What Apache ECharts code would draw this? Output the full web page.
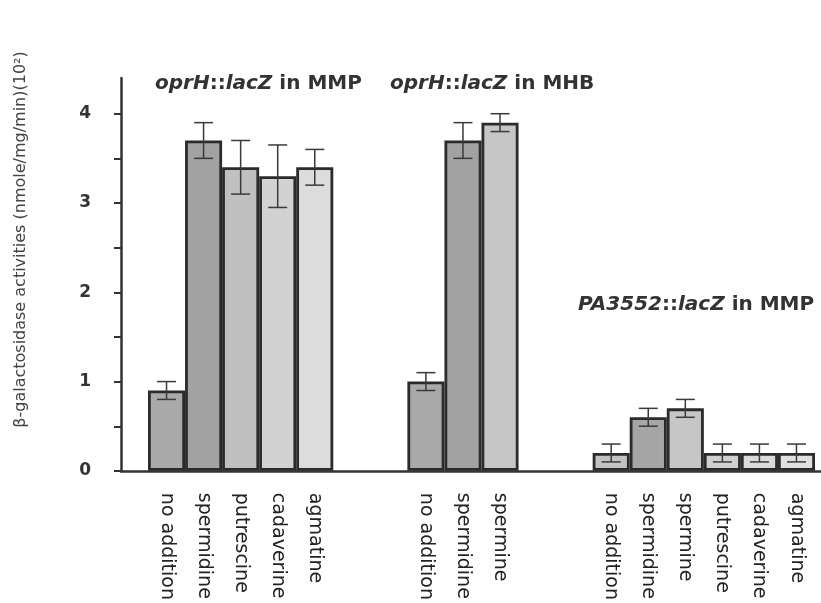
<!DOCTYPE html>
<html>
<head>
<meta charset="utf-8">
<script src="https://cdn.jsdelivr.net/npm/echarts@6/dist/echarts.min.js"></script>
<style>
html, body { margin: 0; padding: 0; background: #fff; }
#chart { width: 821px; height: 603px; }
</style>
</head>
<body>
<div id="chart"></div>
<script>
// oprH::lacZ in MMP
const mmpLabels = ['no addition', 'spermidine', 'putrescine', 'cadaverine', 'agmatine'];
const mmpValues = [0.9, 3.7, 3.4, 3.3, 3.4];
const mmpErrors = [0.1, 0.2, 0.3, 0.35, 0.2];
// oprH::lacZ in MHB
const mhbLabels = ['no addition', 'spermidine', 'spermine'];
const mhbValues = [1.0, 3.7, 3.9];
const mhbErrors = [0.1, 0.2, 0.1];
// PA3552::lacZ in MMP
const paLabels = ['no addition', 'spermidine', 'spermine', 'putrescine', 'cadaverine', 'agmatine'];
const paValues = [0.2, 0.6, 0.7, 0.2, 0.2, 0.2];
const paErrors = [0.1, 0.1, 0.1, 0.1, 0.1, 0.1];

const yTicks = [0, 0.5, 1, 1.5, 2, 2.5, 3, 3.5, 4];
const yLabels = [0, 1, 2, 3, 4];

// grey fills per group
const mmpShades = ['#a9a9a9', '#a2a2a2', '#c0c0c0', '#d2d2d2', '#dcdcdc'];
const mhbShades = ['#a9a9a9', '#a2a2a2', '#c6c6c6'];
const paShades = ['#c2c2c2', '#a6a6a6', '#c6c6c6', '#d0d0d0', '#dadada', '#e0e0e0'];

// lay the groups out on one category axis with two empty slots between them
const categories = [], values = [], shades = [], errData = [];
function addGroup(labels, vals, errs, cols, gapAfter) {
    labels.forEach(function (l, i) {
        const idx = categories.length;
        categories.push(l);
        values.push(vals[i]);
        shades.push(cols[i]);
        errData.push([idx, vals[i], errs[i]]);
    });
    for (let k = 0; k < gapAfter; k++) {
        categories.push('');
        values.push('-');
        shades.push('#fff');
    }
}
addGroup(mmpLabels, mmpValues, mmpErrors, mmpShades, 2);
addGroup(mhbLabels, mhbValues, mhbErrors, mhbShades, 2);
addGroup(paLabels, paValues, paErrors, paShades, 0);

const chart = echarts.init(document.getElementById('chart'));

const titleStyle = {
    fontFamily: 'DejaVu Sans',
    fontWeight: 'bold',
    fontSize: 20,
    color: '#333',
    rich: {
        i: { fontFamily: 'DejaVu Sans', fontWeight: 'bold', fontStyle: 'italic', fontSize: 20, color: '#333' },
        n: { fontFamily: 'DejaVu Sans', fontWeight: 'bold', fontSize: 20, color: '#333' }
    }
};

const option = {
    animation: false,
    backgroundColor: '#fff',
    title: [
        { text: '{i|oprH}{n|::}{i|lacZ}{n| in MMP}', left: 150, top: 69, textStyle: titleStyle },
        { text: '{i|oprH}{n|::}{i|lacZ}{n| in MHB}', left: 385, top: 69, textStyle: titleStyle },
        { text: '{i|PA3552}{n|::}{i|lacZ}{n| in MMP}', left: 573, top: 290, textStyle: titleStyle }
    ],
    grid: [
        { left: 148, right: 6, top: 78, bottom: 132 },
        { left: 121, right: 0, top: 78, bottom: 132 }
    ],
    xAxis: [
        {
            type: 'category',
            gridIndex: 0,
            data: categories,
            axisLine: { show: false },
            axisTick: { show: false },
            axisLabel: {
                interval: 0,
                rotate: -90,
                margin: 22,
                fontFamily: 'DejaVu Sans',
                fontSize: 19,
                color: '#222'
            }
        },
        {
            type: 'value',
            gridIndex: 1,
            min: 0,
            max: 1,
            axisLine: { show: true, lineStyle: { color: '#333', width: 2.5 } },
            axisTick: { show: false },
            axisLabel: { show: false },
            splitLine: { show: false }
        }
    ],
    yAxis: [
        {
            type: 'value',
            gridIndex: 0,
            min: 0,
            max: 4.4,
            show: false
        },
        {
            type: 'value',
            gridIndex: 1,
            min: 0,
            max: 4.4,
            interval: 0.5,
            name: 'β-galactosidase activities (nmole/mg/min)(10²)',
            nameLocation: 'middle',
            nameGap: 92,
            nameTextStyle: {
                fontFamily: 'DejaVu Sans',
                fontSize: 16,
                color: '#444',
                padding: [0, 0, 0, 70]
            },
            axisLine: { show: true, lineStyle: { color: '#333', width: 2.5 } },
            axisTick: { show: true, customValues: yTicks, length: 7, lineStyle: { color: '#333', width: 2 } },
            axisLabel: {
                customValues: yLabels,
                margin: 30,
                fontFamily: 'DejaVu Sans',
                fontWeight: 'bold',
                fontSize: 17,
                color: '#333'
            },
            splitLine: { show: false }
        }
    ],
    series: [
        {
            type: 'bar',
            xAxisIndex: 0,
            yAxisIndex: 0,
            data: values,
            barWidth: '100%',
            itemStyle: {
                color: function (p) { return shades[p.dataIndex]; },
                borderColor: '#2b2b2b',
                borderWidth: 2.8
            }
        },
        {
            type: 'custom',
            xAxisIndex: 0,
            yAxisIndex: 0,
            z: 5,
            data: errData,
            encode: { x: 0, y: 1 },
            renderItem: function (params, api) {
                const x = api.value(0);
                const v = api.value(1);
                const e = api.value(2);
                const hi = api.coord([x, v + e]);
                const lo = api.coord([x, v - e]);
                const cap = 9.5;
                const style = { stroke: '#3a3a3a', lineWidth: 1.5 };
                return {
                    type: 'group',
                    children: [
                        { type: 'line', shape: { x1: hi[0], y1: hi[1], x2: lo[0], y2: lo[1] }, style: style },
                        { type: 'line', shape: { x1: hi[0] - cap, y1: hi[1], x2: hi[0] + cap, y2: hi[1] }, style: style },
                        { type: 'line', shape: { x1: lo[0] - cap, y1: lo[1], x2: lo[0] + cap, y2: lo[1] }, style: style }
                    ]
                };
            }
        }
    ]
};

chart.setOption(option);
console.log('chart initialized.');
</script>
</body>
</html>
